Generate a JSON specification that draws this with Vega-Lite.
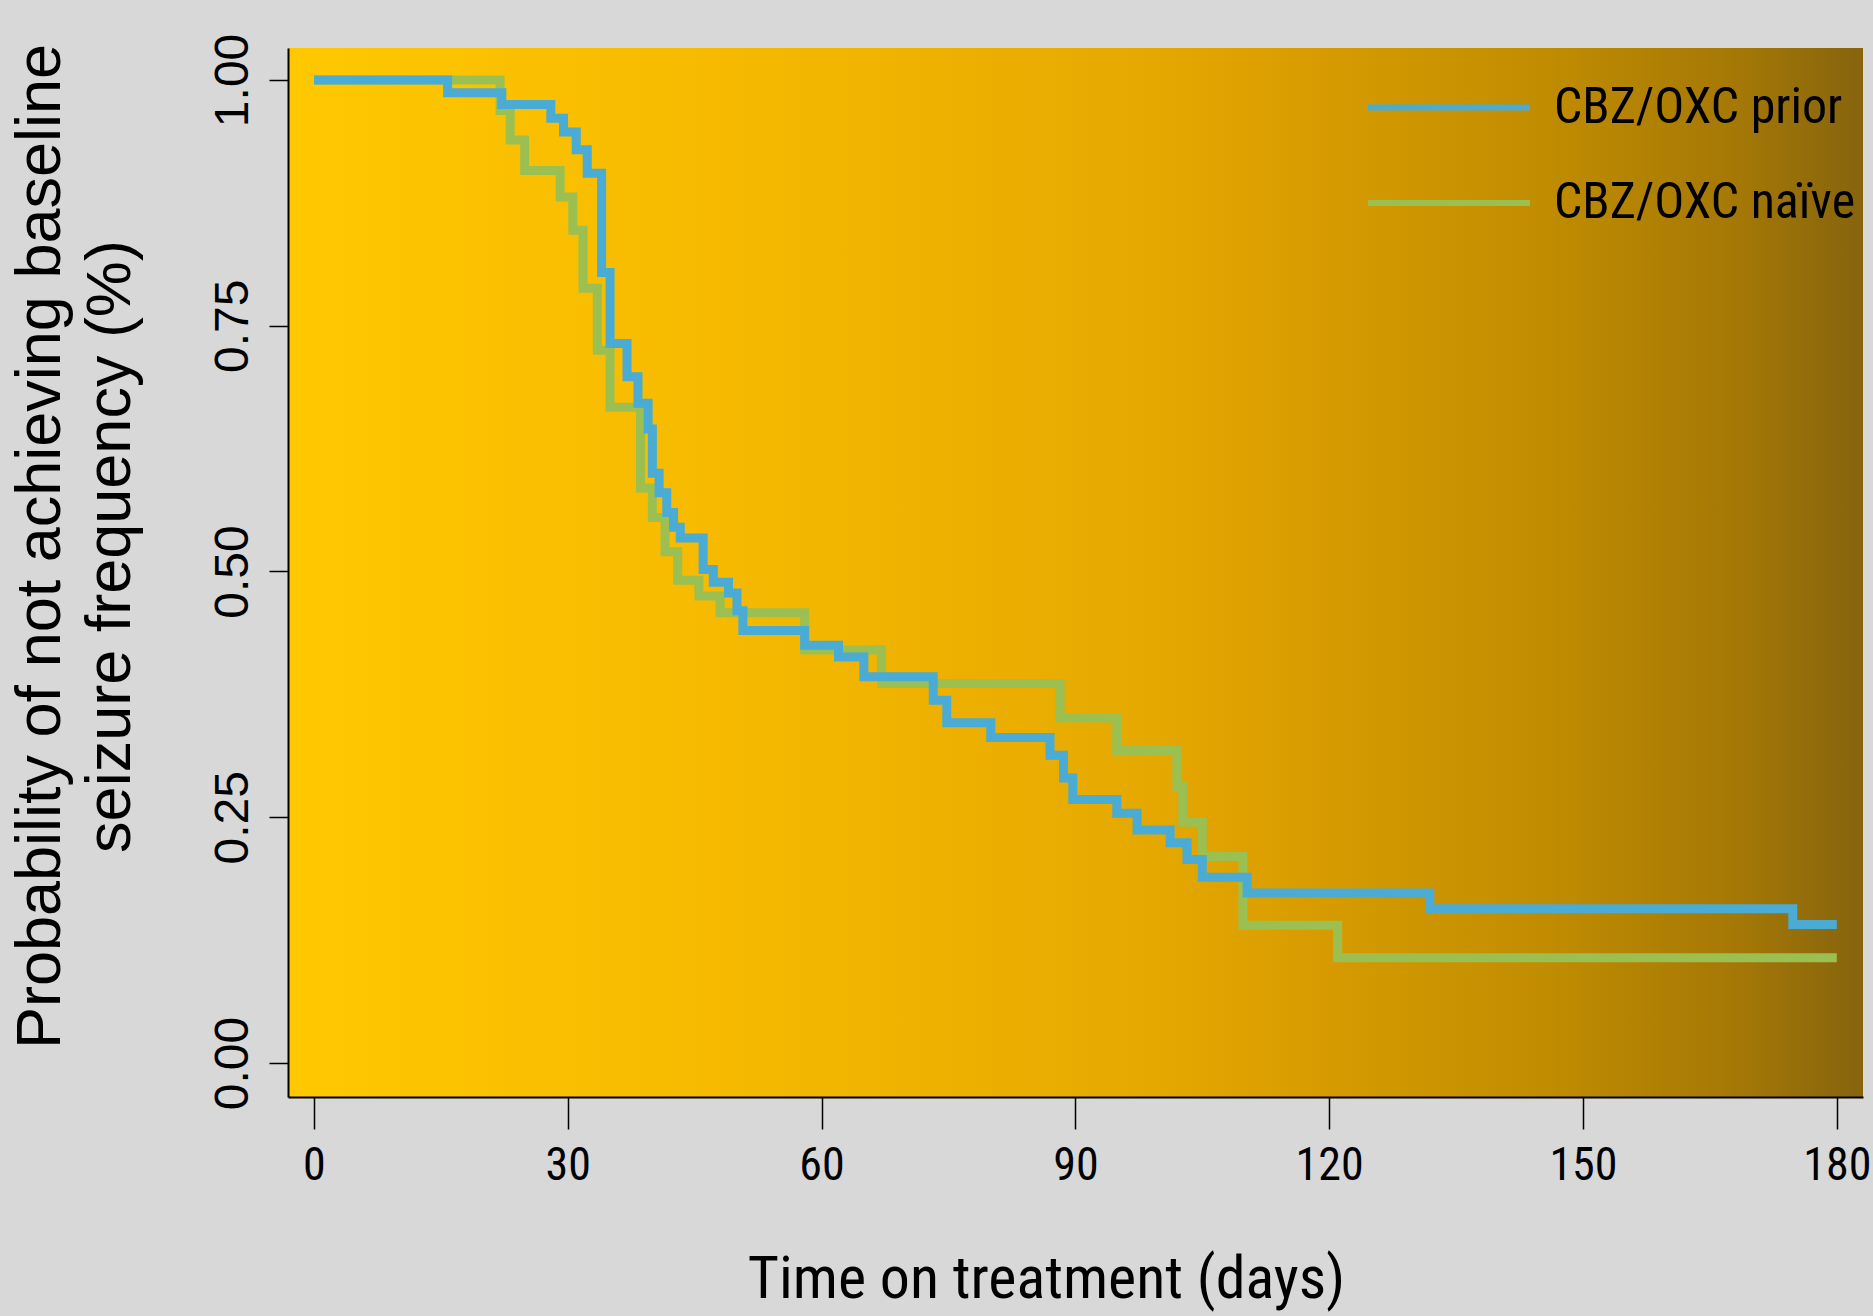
{
  "$schema": "https://vega.github.io/schema/vega-lite/v6.json",
  "width": 1575,
  "height": 1049,
  "autosize": {"type": "none"},
  "padding": {"left": 288, "top": 48, "right": 10, "bottom": 219},
  "background": "#d8d8d8",
  "config": {
    "view": {
      "stroke": null,
      "fill": {
        "gradient": "linear",
        "x1": 0, "y1": 0, "x2": 1, "y2": 0,
        "stops": [
          {"offset": 0, "color": "#ffc800"},
          {"offset": 0.3, "color": "#f5b800"},
          {"offset": 0.55, "color": "#e5a800"},
          {"offset": 0.65, "color": "#d89c00"},
          {"offset": 0.8, "color": "#c08c00"},
          {"offset": 0.92, "color": "#a57806"},
          {"offset": 1, "color": "#86640e"}
        ]
      }
    },
    "axis": {
      "grid": false,
      "domainColor": "#000000",
      "domainWidth": 2,
      "tickColor": "#000000",
      "tickWidth": 1.5,
      "labelColor": "#000000",
      "titleColor": "#000000",
      "titleFontWeight": "normal",
      "labelFlush": false
    }
  },
  "datasets": {
    "km": [
      {"group": "CBZ/OXC prior", "t": 0, "p": 1.0},
      {"group": "CBZ/OXC prior", "t": 15.8, "p": 0.987},
      {"group": "CBZ/OXC prior", "t": 22.2, "p": 0.975},
      {"group": "CBZ/OXC prior", "t": 28.0, "p": 0.961},
      {"group": "CBZ/OXC prior", "t": 29.5, "p": 0.947},
      {"group": "CBZ/OXC prior", "t": 31.0, "p": 0.929},
      {"group": "CBZ/OXC prior", "t": 32.3, "p": 0.905},
      {"group": "CBZ/OXC prior", "t": 34.0, "p": 0.804},
      {"group": "CBZ/OXC prior", "t": 35.0, "p": 0.732},
      {"group": "CBZ/OXC prior", "t": 37.0, "p": 0.698},
      {"group": "CBZ/OXC prior", "t": 38.3, "p": 0.671},
      {"group": "CBZ/OXC prior", "t": 39.5, "p": 0.645},
      {"group": "CBZ/OXC prior", "t": 40.0, "p": 0.600},
      {"group": "CBZ/OXC prior", "t": 40.8, "p": 0.580},
      {"group": "CBZ/OXC prior", "t": 41.7, "p": 0.560},
      {"group": "CBZ/OXC prior", "t": 42.5, "p": 0.545},
      {"group": "CBZ/OXC prior", "t": 43.3, "p": 0.534},
      {"group": "CBZ/OXC prior", "t": 46.0, "p": 0.502},
      {"group": "CBZ/OXC prior", "t": 47.2, "p": 0.489},
      {"group": "CBZ/OXC prior", "t": 49.0, "p": 0.478},
      {"group": "CBZ/OXC prior", "t": 50.0, "p": 0.460},
      {"group": "CBZ/OXC prior", "t": 50.7, "p": 0.440},
      {"group": "CBZ/OXC prior", "t": 58.0, "p": 0.425},
      {"group": "CBZ/OXC prior", "t": 62.0, "p": 0.413},
      {"group": "CBZ/OXC prior", "t": 65.0, "p": 0.393},
      {"group": "CBZ/OXC prior", "t": 73.2, "p": 0.369},
      {"group": "CBZ/OXC prior", "t": 74.8, "p": 0.346},
      {"group": "CBZ/OXC prior", "t": 80.0, "p": 0.331},
      {"group": "CBZ/OXC prior", "t": 87.0, "p": 0.313},
      {"group": "CBZ/OXC prior", "t": 88.6, "p": 0.290},
      {"group": "CBZ/OXC prior", "t": 89.7, "p": 0.268},
      {"group": "CBZ/OXC prior", "t": 94.9, "p": 0.254},
      {"group": "CBZ/OXC prior", "t": 97.3, "p": 0.237},
      {"group": "CBZ/OXC prior", "t": 101.2, "p": 0.224},
      {"group": "CBZ/OXC prior", "t": 103.2, "p": 0.207},
      {"group": "CBZ/OXC prior", "t": 105.0, "p": 0.189},
      {"group": "CBZ/OXC prior", "t": 110.3, "p": 0.173},
      {"group": "CBZ/OXC prior", "t": 131.9, "p": 0.157},
      {"group": "CBZ/OXC prior", "t": 174.8, "p": 0.141},
      {"group": "CBZ/OXC prior", "t": 180.0, "p": 0.141},
      {"group": "CBZ/OXC naïve", "t": 0, "p": 1.0},
      {"group": "CBZ/OXC naïve", "t": 22.0, "p": 0.969},
      {"group": "CBZ/OXC naïve", "t": 23.2, "p": 0.939},
      {"group": "CBZ/OXC naïve", "t": 24.9, "p": 0.908},
      {"group": "CBZ/OXC naïve", "t": 29.1, "p": 0.881},
      {"group": "CBZ/OXC naïve", "t": 30.6, "p": 0.847},
      {"group": "CBZ/OXC naïve", "t": 31.8, "p": 0.788},
      {"group": "CBZ/OXC naïve", "t": 33.5, "p": 0.725},
      {"group": "CBZ/OXC naïve", "t": 35.0, "p": 0.667},
      {"group": "CBZ/OXC naïve", "t": 38.6, "p": 0.585},
      {"group": "CBZ/OXC naïve", "t": 40.0, "p": 0.555},
      {"group": "CBZ/OXC naïve", "t": 41.5, "p": 0.520},
      {"group": "CBZ/OXC naïve", "t": 43.0, "p": 0.491},
      {"group": "CBZ/OXC naïve", "t": 45.5, "p": 0.475},
      {"group": "CBZ/OXC naïve", "t": 48.0, "p": 0.458},
      {"group": "CBZ/OXC naïve", "t": 58.0, "p": 0.420},
      {"group": "CBZ/OXC naïve", "t": 67.1, "p": 0.386},
      {"group": "CBZ/OXC naïve", "t": 88.2, "p": 0.351},
      {"group": "CBZ/OXC naïve", "t": 94.9, "p": 0.318},
      {"group": "CBZ/OXC naïve", "t": 102.0, "p": 0.281},
      {"group": "CBZ/OXC naïve", "t": 102.7, "p": 0.245},
      {"group": "CBZ/OXC naïve", "t": 105.0, "p": 0.210},
      {"group": "CBZ/OXC naïve", "t": 109.8, "p": 0.140},
      {"group": "CBZ/OXC naïve", "t": 121.0, "p": 0.107},
      {"group": "CBZ/OXC naïve", "t": 180.0, "p": 0.107}
    ]
  },
  "data": {"name": "km"},
  "encoding": {
    "x": {
      "field": "t",
      "type": "quantitative",
      "scale": {"domain": [-3.07, 183.1], "nice": false, "zero": false},
      "axis": {
        "values": [0, 30, 60, 90, 120, 150, 180],
        "title": "Time on treatment (days)",
        "labelFont": "Liberation Sans Narrow, Roboto Condensed, Arial Narrow, Liberation Sans",
        "labelFontSize": 46,
        "tickSize": 32,
        "labelPadding": 14,
        "titleFont": "Liberation Sans Narrow, Roboto Condensed, Arial Narrow, Liberation Sans",
        "titleFontSize": 60,
        "titlePadding": 62,
        "titleX": 758
      }
    },
    "y": {
      "field": "p",
      "type": "quantitative",
      "scale": {"domain": [-0.0346, 1.0325], "nice": false, "zero": false},
      "axis": {
        "values": [0, 0.25, 0.5, 0.75, 1],
        "format": ".2f",
        "title": ["Probability of not achieving baseline", "seizure frequency (%)"],
        "labelFont": "Liberation Sans",
        "labelFontSize": 48,
        "labelAngle": -90,
        "labelAlign": "center",
        "labelBaseline": "bottom",
        "labelPadding": 12,
        "tickSize": 19,
        "titleFont": "Liberation Sans",
        "titleFontSize": 63,
        "titleLineHeight": 70,
        "titlePadding": 67,
        "titleY": 498
      }
    },
    "color": {
      "field": "group",
      "type": "nominal",
      "scale": {"domain": ["CBZ/OXC prior", "CBZ/OXC naïve"], "range": ["#4aabd4", "#9cbf52"]},
      "legend": {
        "title": null,
        "orient": "none",
        "legendX": 1077,
        "legendY": 29.5,
        "padding": 0,
        "symbolType": "stroke",
        "symbolSize": 26244,
        "symbolStrokeWidth": 6,
        "labelFont": "Liberation Sans Narrow, Roboto Condensed, Arial Narrow, Liberation Sans",
        "labelFontSize": 50,
        "labelLimit": 0,
        "labelColor": "#000000",
        "labelOffset": 21,
        "clipHeight": 60,
        "rowPadding": 35.5
      }
    }
  },
  "layer": [
    {
      "transform": [{"filter": "datum.group === 'CBZ/OXC naïve'"}],
      "mark": {"type": "line", "interpolate": "step-after", "strokeWidth": 9}
    },
    {
      "transform": [{"filter": "datum.group === 'CBZ/OXC prior'"}],
      "mark": {"type": "line", "interpolate": "step-after", "strokeWidth": 9}
    }
  ]
}
